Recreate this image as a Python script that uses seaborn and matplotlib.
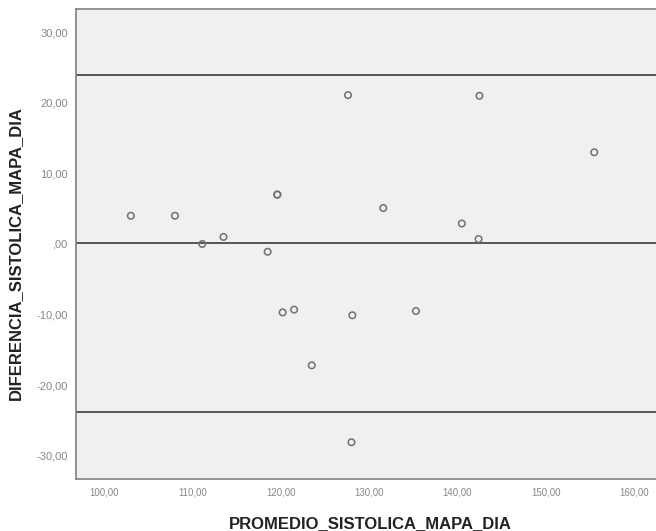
import seaborn as sns
import matplotlib.pyplot as plt
import pandas as pd

# Bland-Altman: promedio vs diferencia de la sistolica (MAPA dia)
promedio = [103.0, 108.0, 111.1, 113.5, 118.5, 119.6, 119.6, 120.2, 121.5, 123.5,
            127.6, 142.5, 155.5, 131.6, 140.5, 142.4, 128.1, 135.3, 128.0]
diferencia = [4.0, 4.0, 0.0, 1.0, -1.1, 7.0, 7.0, -9.7, -9.3, -17.2,
              21.1, 21.0, 13.0, 5.1, 2.9, 0.7, -10.1, -9.5, -28.1]

media_dif = 0.1
limite_sup = 24.0
limite_inf = -23.8

x_ticks = [100, 110, 120, 130, 140, 150, 160]
y_ticks = [-30, -20, -10, 0, 10, 20, 30]

df = pd.DataFrame({'PROMEDIO_SISTOLICA_MAPA_DIA': promedio,
                   'DIFERENCIA_SISTOLICA_MAPA_DIA': diferencia})


def coma(v):
    # formato SPSS: coma decimal y ",00" para el cero
    s = f"{v:.2f}".replace('.', ',')
    if s.startswith('0,'):
        s = s[1:]
    return s


sns.set_style('white')
plt.rcParams['font.family'] = ['Liberation Sans', 'DejaVu Sans']

fig = plt.figure(figsize=(6.56, 5.31), dpi=100)
ax = fig.add_axes([0.116, 0.098, 0.884, 0.885])
ax.set_facecolor('#f0f0f0')

for v in [limite_sup, media_dif, limite_inf]:
    ax.axhline(v, color='#555555', linewidth=1.4, zorder=1)

sns.scatterplot(data=df, x='PROMEDIO_SISTOLICA_MAPA_DIA', y='DIFERENCIA_SISTOLICA_MAPA_DIA',
                ax=ax, s=22, marker='o', edgecolor='#707070', linewidth=1.1, zorder=3)
ax.collections[0].set_facecolor('none')

ax.set_xlim(96.8, 162.5)
ax.set_ylim(-33.3, 33.3)
ax.set_xticks(x_ticks)
ax.set_yticks(y_ticks)
ax.set_xticklabels([coma(v) for v in x_ticks])
ax.set_yticklabels([coma(v) for v in y_ticks])
ax.tick_params(axis='both', direction='out', length=4, width=1.5, color='#333333',
               labelcolor='#888888', pad=2)
ax.tick_params(axis='x', labelsize=7)
ax.tick_params(axis='y', labelsize=8)

for side in ['left', 'bottom', 'top']:
    ax.spines[side].set_color('#888888')
    ax.spines[side].set_linewidth(1.3)
ax.spines['right'].set_visible(False)

ax.set_xlabel('PROMEDIO_SISTOLICA_MAPA_DIA', fontsize=12, fontweight='bold', color='#222222')
ax.set_ylabel('DIFERENCIA_SISTOLICA_MAPA_DIA', fontsize=12, fontweight='bold', color='#222222')
ax.xaxis.set_label_coords(0.508, -0.078)
ax.yaxis.set_label_coords(-0.091, 0.48)

plt.savefig('out.png', dpi=100)
